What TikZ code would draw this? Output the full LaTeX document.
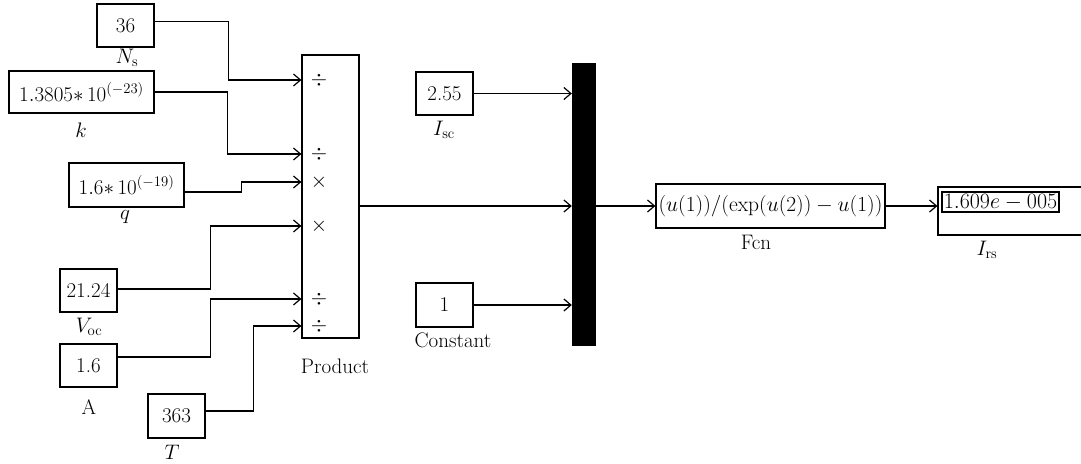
\RequirePackage{fix-cm}
\documentclass[tikz,border=0pt]{standalone}
\usetikzlibrary{arrows.meta}
\begin{document}
\begin{tikzpicture}[x=1pt,y=-1pt,
  every node/.style={font=\fontsize{21}{24}\selectfont, inner sep=0pt},
  blk/.style={draw, line width=1.2pt, minimum width=#1},
  blk/.default=57,
  sig/.style={line width=1.2pt, -{Straight Barb[length=7pt,width=12pt]}}]
\useasboundingbox (0,0) rectangle (1081,463);
\clip (0,0) rectangle (1081,463);

% constant sources
\node[blk, minimum height=43] (ns) at (125.5,25.5) {36};
\node[blk=145, minimum height=42] (kc) at (81.5,92) {$1.3805{*}\,10^{(-23)}$};
\node[blk=115, minimum height=44] (qc) at (126.5,185) {$1.6{*}\,10^{(-19)}$};
\node[blk, minimum height=43] (voc) at (88.5,290.5) {21.24};
\node[blk, minimum height=43] (ac) at (88.5,365.5) {1.6};
\node[blk, minimum height=44] (tc) at (176.5,416) {363};
\node[blk, minimum height=43] (isc) at (444.5,93.5) {2.55};
\node[blk, minimum height=44] (cst) at (444.5,305) {1};

% block names
\node (lns) at (127,58) {$N_{\mathrm{s}}$};
\node (lk) at (81,130) {$k$};
\node (lq) at (125,217) {$q$};
\node (lvoc) at (89,327) {$V_{\mathrm{oc}}$};
\node (la) at (89,407) {A};
\node (lt) at (172,452) {$T$};
\node (lisc) at (444,130) {$I_{\mathrm{sc}}$};
\node (lcst) at (453,340) {Constant};

% product block with its six input ports and one output
\node[blk, minimum height=283] (prod) at (330.5,196.5) {};
\node (lprod) at (335,366) {Product};
\coordinate (in1) at ([yshift=116.5pt]prod.west);
\coordinate (in2) at ([yshift=42.5pt]prod.west);
\coordinate (in3) at ([yshift=14.5pt]prod.west);
\coordinate (in4) at ([yshift=-29.5pt]prod.west);
\coordinate (in5) at ([yshift=-102.5pt]prod.west);
\coordinate (in6) at ([yshift=-129.5pt]prod.west);
\coordinate (pout) at ([yshift=-9.5pt]prod.east);
\node (s1) at (319,80) {$\div$};
\node (s2) at (319,154) {$\div$};
\node (s3) at (319,182) {$\times$};
\node (s4) at (319,226) {$\times$};
\node (s5) at (319,299) {$\div$};
\node (s6) at (319,326) {$\div$};

% mux bar
\node[draw, fill=black, minimum width=23, minimum height=282] (mux) at (583.5,204) {};

% function and display
\node[blk=229, minimum height=44, font=\fontsize{21.5}{24}\selectfont] (fcn) at (770.5,206) {$(u(1))/(\exp(u(2))-u(1))$};
\node (lfcn) at (756,242) {Fcn};
\node[blk=162, minimum height=48] (disp) at (1019,211) {};
\node[draw, line width=1.2pt, minimum width=117, minimum height=20, font=\fontsize{22}{24}\selectfont] (dval) at (1000.5,202) {$1.609e-005$};
\node (lirs) at (987,250) {$I_{\mathrm{rs}}$};

% wiring into the product
\draw[sig] ([yshift=4pt]ns.east) -- ++(74,0) |- (in1);
\draw[sig] (kc.east) -- ++(73,0) |- (in2);
\draw[sig] ([yshift=-7pt]qc.east) -- ++(57,0) |- (in3);
\draw[sig] ([yshift=1.5pt]voc.east) -- ++(93,0) |- (in4);
\draw[sig] ([yshift=8.5pt]ac.east) -- ++(93,0) |- (in5);
\draw[sig] ([yshift=5pt]tc.east) -- ++(48,0) |- (in6);

% wiring into the mux and onward
\draw[sig] (isc.east) -- (isc.east -| mux.west);
\draw[sig] (pout) -- (pout -| mux.west);
\draw[sig] (cst.east) -- (cst.east -| mux.west);
\draw[sig] (mux.east |- fcn.west) -- (fcn.west);
\draw[sig] (fcn.east) -- (fcn.east -| disp.west);
\end{tikzpicture}
\end{document}
